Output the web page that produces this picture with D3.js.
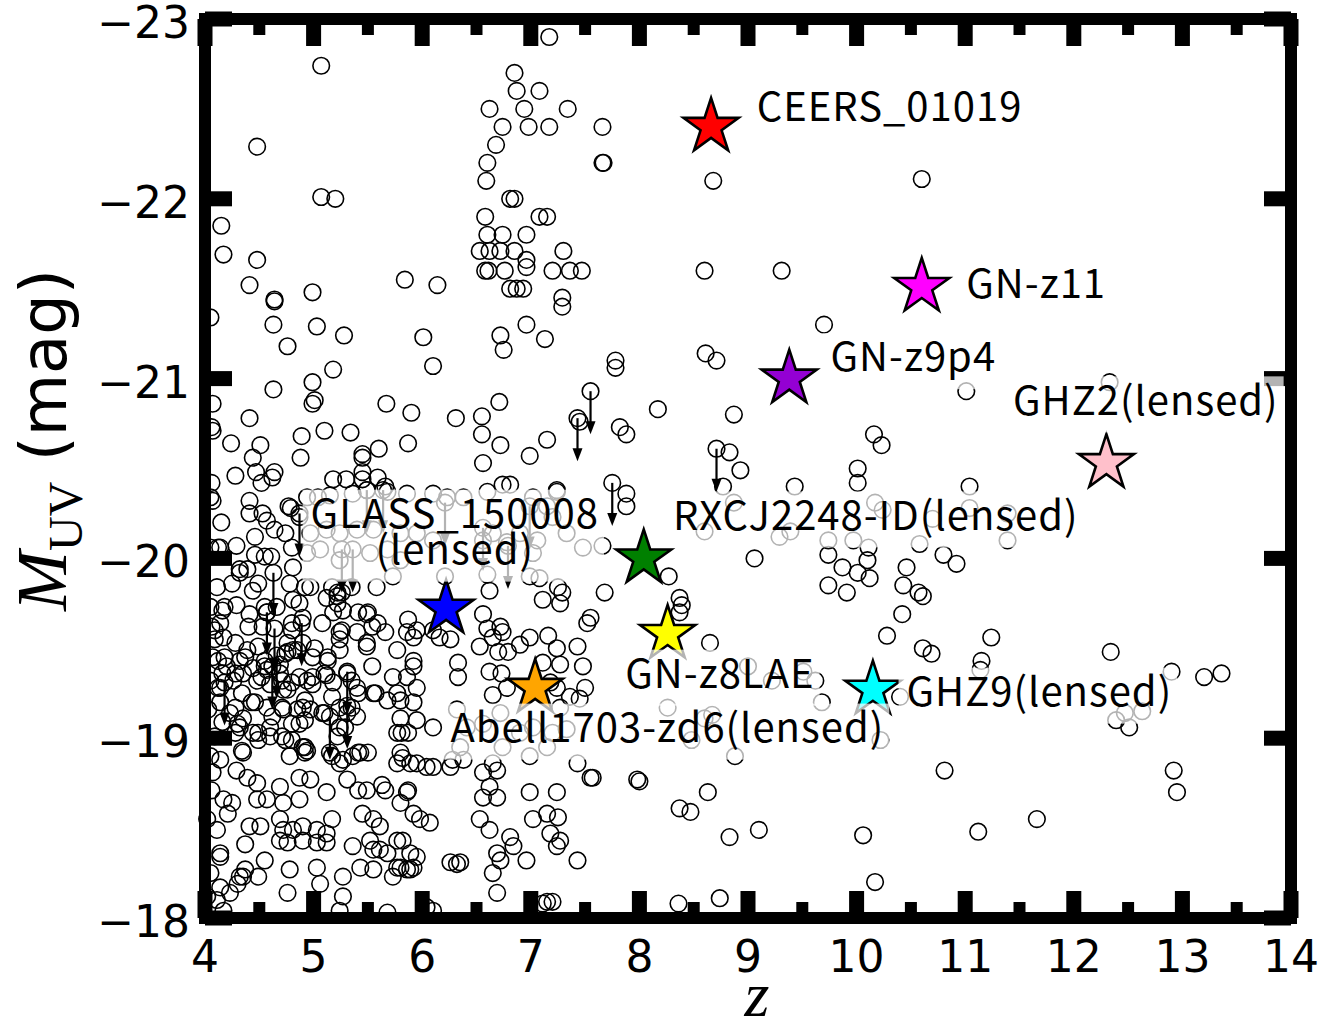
<!DOCTYPE html>
<html>
<head>
<meta charset="utf-8">
<script src="https://cdn.jsdelivr.net/npm/d3@7"></script>
<style>
  body { margin: 0; background: #fff; }
</style>
</head>
<body>
<svg id="chart" width="1341" height="1034"></svg>
<script>
// field galaxies [z, M_UV]
const fieldBright = [
  [7.17,-22.90],[6.85,-22.70],[6.87,-22.60],[7.08,-22.60],[6.62,-22.50],[6.94,-22.50],[7.34,-22.50],[6.74,-22.40],
  [6.98,-22.40],[7.17,-22.40],[7.66,-22.40],[6.68,-22.30],[6.60,-22.20],[7.66,-22.20],[7.67,-22.20],[6.59,-22.10],
  [6.81,-22.00],[6.85,-22.00],[6.58,-21.90],[7.08,-21.90],[7.15,-21.90],[6.60,-21.80],[6.74,-21.80],[6.96,-21.80],
  [6.53,-21.71],[6.62,-21.71],[6.72,-21.71],[6.85,-21.71],[6.96,-21.66],[6.96,-21.62],[7.30,-21.71],[6.58,-21.60],
  [6.61,-21.60],[6.76,-21.60],[7.20,-21.60],[7.36,-21.60],[7.47,-21.60],[6.81,-21.50],[6.87,-21.50],[6.93,-21.50],
  [7.29,-21.45],[7.29,-21.40],[5.84,-21.55],[6.14,-21.52],[6.96,-21.30],[6.72,-21.24],[6.75,-21.16],[7.13,-21.22],
  [6.01,-21.23],[6.10,-21.07],[5.07,-22.74],[4.48,-22.29],[5.07,-22.01],[5.20,-22.00],[4.15,-21.85],[4.17,-21.69],
  [4.48,-21.66],[4.41,-21.52],[4.64,-21.44],[4.99,-21.48],[8.68,-22.10],[10.60,-22.11],[8.60,-21.60],[9.31,-21.60],
  [9.70,-21.30],[4.05,-21.34]
];
const fieldHighZ = [
  [8.61,-21.14],[8.71,-21.10],[7.78,-21.10],[7.78,-21.06],[11.01,-20.93],[8.17,-20.83],[8.87,-20.80],[7.82,-20.73],
  [7.88,-20.69],[10.16,-20.69],[10.23,-20.63],[8.83,-20.59],[8.93,-20.49],[8.77,-20.40],[10.01,-20.50],[10.01,-20.42],
  [9.43,-20.40],[11.04,-20.40],[7.88,-20.36],[7.88,-20.29],[8.60,-20.15],[8.87,-20.31],[9.29,-20.12],[9.39,-20.15],
  [10.17,-20.31],[10.24,-20.27],[10.70,-20.22],[11.04,-20.28],[10.58,-20.08],[9.74,-20.10],[9.97,-20.10],[10.11,-20.06],
  [10.10,-19.99],[9.74,-20.02],[9.87,-19.95],[10.01,-19.92],[10.12,-19.89],[9.74,-19.85],[9.91,-19.81],[10.46,-19.95],
  [10.43,-19.85],[10.57,-19.81],[10.61,-19.79],[10.80,-20.02],[10.92,-19.97],[9.06,-20.00],[7.66,-20.07],[8.27,-19.90],
  [7.68,-19.81],[8.37,-19.78],[11.39,-20.25],[11.39,-20.10],[12.33,-20.98],
  [8.37,-19.70],[8.39,-19.74],[8.65,-19.53],[10.42,-19.69],[10.28,-19.57],[10.61,-19.50],[10.69,-19.47],[11.15,-19.43],
  [11.14,-19.38],[11.24,-19.56],[9.00,-19.40],[9.22,-19.32],[9.51,-19.37],[9.62,-19.32],[9.68,-19.20],[8.26,-19.17],
  [8.67,-19.13],[8.60,-19.11],[8.48,-18.99],[10.22,-18.99],[10.40,-19.23],[8.88,-18.90],[7.57,-18.78],[7.98,-18.77],
  [8.00,-18.76],[8.63,-18.70],[8.37,-18.61],[8.47,-18.59],[8.83,-18.45],[9.10,-18.49],[10.06,-18.46],[11.12,-18.48],
  [10.81,-18.82],[10.17,-18.20],[8.36,-18.08],[8.74,-18.11],
  [12.34,-19.48],[12.90,-19.37],[13.20,-19.34],[13.36,-19.36],[12.63,-19.15],[12.47,-19.14],[12.39,-19.10],[12.51,-19.06],
  [12.92,-18.82],[12.95,-18.70],[11.66,-18.55]
];
const fieldMid = [
  [4.64,-21.43],[4.63,-21.30],[5.03,-21.29],[5.28,-21.24],[4.76,-21.18],[5.18,-21.05],[4.63,-20.94],[4.99,-20.98],
  [4.07,-20.86],[5.01,-20.88],[4.99,-20.86],[5.67,-20.86],[5.90,-20.81],[6.71,-20.87],[6.55,-20.79],[6.31,-20.78],
  [4.41,-20.78],[7.45,-20.76],[4.06,-20.73],[4.07,-20.71],[6.55,-20.69],[6.72,-20.63],[7.15,-20.66],[6.99,-20.57],
  [4.89,-20.68],[5.10,-20.71],[5.34,-20.70],[4.24,-20.64],[4.51,-20.63],[4.44,-20.56],[4.88,-20.56],[5.87,-20.64],
  [5.45,-20.58],[5.45,-20.56],[5.60,-20.61],[6.56,-20.53],[4.28,-20.46],[4.47,-20.48],[4.64,-20.48],[4.62,-20.45],
  [4.52,-20.42],[4.06,-20.42],[5.18,-20.44],[5.30,-20.44],[5.45,-20.48],[5.45,-20.44],[5.59,-20.45],[5.66,-20.40],
  [6.74,-20.41],[6.81,-20.41],[7.24,-20.38],[4.05,-20.34],[4.07,-20.32],[4.41,-20.32],[4.77,-20.29],[4.79,-20.28],
  [4.41,-20.25],[4.53,-20.25],[4.57,-20.21],[4.15,-20.20],[4.64,-20.16],[4.74,-20.14],[4.46,-20.12],[4.05,-20.06],
  [4.14,-20.06],[4.46,-20.02],[4.55,-20.01],[4.61,-20.01],[4.32,-19.94],[4.39,-19.94],[4.81,-19.95],[5.73,-19.90],
  [6.21,-19.90],[6.60,-19.91],[6.99,-19.90],[7.08,-19.89],[7.25,-19.84],[7.29,-19.81],[5.58,-19.84],[6.62,-19.82],
  [4.11,-19.84],[4.44,-19.82],[4.97,-19.84],[5.17,-19.84],[5.22,-19.81],
  [4.94,-20.34],[5.04,-20.34],[5.15,-20.35],[5.36,-20.36],[5.49,-20.38],[5.68,-20.37],[5.86,-20.36],[6.10,-20.36],
  [6.38,-20.34],[6.60,-20.37],[7.02,-20.34],[7.24,-20.37],[7.15,-20.29],[7.20,-20.23],[4.87,-20.23],[4.97,-20.14],
  [5.12,-20.16],[5.24,-20.14],[5.40,-20.16],[5.55,-20.16],[5.80,-20.14],[5.95,-20.14],[6.10,-20.10],[6.56,-20.10],
  [6.65,-20.14],[6.78,-20.09],[6.90,-20.14],[7.06,-20.10],[7.02,-20.03],[7.48,-20.06],[4.94,-20.03],[5.06,-20.05],
  [5.24,-19.99],[5.52,-20.03],[5.68,-20.05],[5.80,-19.99],[6.23,-20.34],[7.33,-20.14],
  [4.12,-20.06],[4.29,-20.07],[4.80,-20.06],[4.32,-19.92],[4.25,-19.86],[4.49,-19.86],[4.78,-19.86],[4.92,-19.84],
  [5.26,-19.81],[5.35,-19.84]
];
const fieldFaint = [
  [4.16,-19.71],[4.29,-19.74],[4.41,-19.69],[4.40,-19.62],[4.57,-19.70],[4.66,-19.73],[4.87,-19.75],[4.90,-19.67],
  [4.80,-19.64],[5.18,-19.70],[5.22,-19.75],[5.27,-19.71],[5.41,-19.70],[5.49,-19.69],[5.54,-19.62],[5.66,-19.59],
  [5.87,-19.66],[5.92,-19.56],[5.95,-19.60],[5.86,-19.59],[6.10,-19.60],[6.16,-19.56],[6.56,-19.69],[6.60,-19.61],
  [6.72,-19.62],[6.74,-19.59],[6.65,-19.56],[7.11,-19.77],[7.27,-19.75],[7.52,-19.64],[7.55,-19.67],[4.09,-19.60],
  [4.17,-19.56],[4.14,-19.64],[4.07,-19.45],[4.20,-19.40],[4.12,-19.43],[4.32,-19.43],[4.39,-19.49],[4.44,-19.39],
  [4.55,-19.43],[4.69,-19.41],[4.76,-19.48],[4.81,-19.49],[4.90,-19.53],[5.01,-19.50],[5.13,-19.43],[5.24,-19.49],
  [5.24,-19.59],[5.49,-19.51],[5.77,-19.49],[5.92,-19.43],[5.92,-19.40],[6.26,-19.55],[6.33,-19.42],[6.33,-19.34],
  [6.53,-19.51],[6.70,-19.48],[6.79,-19.48],[6.90,-19.52],[6.99,-19.56],[7.16,-19.57],[7.24,-19.50],[7.43,-19.51],
  [7.48,-19.40],[7.11,-19.42],[7.27,-19.41],[6.62,-19.37],[6.73,-19.36],[4.05,-19.32],[4.14,-19.28],[4.26,-19.32],
  [4.35,-19.36],[4.48,-19.32],[4.57,-19.38],[4.60,-19.30],[4.69,-19.36],[4.72,-19.27],[4.87,-19.34],[4.94,-19.32],
  [4.99,-19.30],[5.12,-19.35],[5.18,-19.31],[5.31,-19.36],[5.40,-19.28],[5.55,-19.25],[5.73,-19.34],[5.86,-19.34],
  [5.95,-19.28],[5.77,-19.25],[6.65,-19.24],[6.78,-19.28],[7.18,-19.31],[7.24,-19.28],[7.36,-19.23],[7.45,-19.22],
  [7.50,-19.28],[4.03,-19.16],[4.14,-19.20],[4.23,-19.14],[4.35,-19.11],[4.46,-19.20],[4.57,-19.17],[4.72,-19.16],
  [4.85,-19.16],[4.90,-19.17],[4.97,-19.16],[5.10,-19.14],[5.24,-19.17],[5.31,-19.14],[5.40,-19.12],[5.68,-19.21],
  [5.80,-19.21],[5.92,-19.20],[5.80,-19.11],[5.95,-19.10],[4.44,-19.03],[4.32,-19.06],[4.60,-19.06],[4.71,-19.01],
  [4.87,-19.08],[5.24,-19.06],[5.77,-19.03],[5.81,-19.03],[5.87,-19.03],[6.10,-19.06],[4.05,-18.90],[4.14,-18.88],
  [4.35,-18.92],[4.49,-18.99],[4.60,-19.01],[4.80,-18.99],[4.90,-18.95],[4.94,-18.93],[5.15,-18.92],[5.24,-18.86],
  [5.27,-18.88],[5.36,-18.90],[5.43,-18.92],[5.50,-18.92],[4.78,-18.90],[5.80,-18.92],[5.82,-18.89],[5.89,-18.86],
  [5.95,-18.86],[6.04,-18.84],[6.10,-18.84],[5.77,-18.86],[6.26,-18.84],[6.28,-18.88],[6.38,-18.88],[6.65,-18.86],
  [6.69,-18.82],[6.99,-18.90],[7.43,-18.86],[7.55,-18.78],[4.07,-18.81],[4.29,-18.82],[4.39,-18.78],[4.48,-18.75],
  [4.69,-18.73],[4.87,-18.78],[4.97,-18.77],[5.12,-18.70],[5.31,-18.77],[5.41,-18.71],[5.49,-18.71],[5.63,-18.74],
  [5.66,-18.71],[5.86,-18.70],[5.87,-18.71],[6.56,-18.81],[6.62,-18.73],[6.69,-18.67],[6.56,-18.67],[6.99,-18.70],
  [7.24,-18.70],[4.17,-18.66],[4.25,-18.64],[4.48,-18.66],[4.57,-18.66],[4.72,-18.64],[4.87,-18.66],[4.21,-18.58],
  [4.41,-18.51],[4.51,-18.51],[4.69,-18.55],[4.72,-18.49],[4.81,-18.49],[4.90,-18.51],[5.03,-18.49],[5.12,-18.47],
  [5.17,-18.55],[5.45,-18.58],[5.55,-18.55],[5.61,-18.51],[5.80,-18.64],[5.92,-18.58],[5.98,-18.55],[6.07,-18.53],
  [6.53,-18.55],[6.62,-18.49],[7.02,-18.55],[7.15,-18.58],[7.25,-18.56],[4.11,-18.49],[4.02,-18.55],[4.14,-18.34],
  [4.14,-18.36],[4.32,-18.23],[4.37,-18.27],[4.49,-18.23],[4.69,-18.43],[4.76,-18.42],[4.90,-18.43],[5.03,-18.42],
  [5.12,-18.42],[5.36,-18.40],[5.43,-18.28],[5.52,-18.43],[5.55,-18.38],[5.61,-18.38],[5.68,-18.36],[5.77,-18.43],
  [5.82,-18.43],[5.89,-18.36],[5.95,-18.34],[5.80,-18.28],[5.86,-18.27],[5.92,-18.28],[6.26,-18.31],[6.32,-18.30],
  [6.35,-18.31],[6.69,-18.36],[6.72,-18.32],[6.81,-18.45],[6.84,-18.40],[6.96,-18.32],[7.18,-18.47],[7.24,-18.40],
  [7.27,-18.43],[7.43,-18.32],[4.05,-18.25],[4.14,-18.17],[4.23,-18.14],[4.30,-18.19],[4.35,-18.23],[4.76,-18.14],
  [5.03,-18.28],[5.06,-18.19],[5.27,-18.23],[5.27,-18.12],[5.55,-18.27],[5.73,-18.23],[5.77,-18.28],[5.89,-18.27],
  [6.65,-18.25],[6.69,-18.14],[5.24,-18.04],[5.68,-18.03],[6.04,-18.06],[6.10,-18.04],[7.15,-18.09],[7.20,-18.09],
  [7.11,-18.08],[4.02,-18.12],[4.11,-18.10],[4.17,-18.04],
  [6.32,-19.16],[6.41,-19.06],[6.56,-19.08],[6.72,-19.14],[6.90,-19.03],[7.02,-19.06],[7.20,-19.03],[7.33,-19.05],
  [6.35,-18.95],[6.74,-18.95],[7.15,-18.95],[7.27,-19.17]
];
const fieldCrowded = [
  [4.05,-19.73],[4.18,-19.73],[4.55,-19.73],[4.81,-19.77],[5.12,-19.78],[5.22,-19.79],[5.50,-19.70],[5.59,-19.64],
  [4.06,-19.62],[4.53,-19.62],[4.80,-19.60],[5.08,-19.64],[5.26,-19.60],[5.40,-19.59],[4.09,-19.55],[4.28,-19.53],
  [4.49,-19.51],[4.76,-19.53],[4.85,-19.49],[4.99,-19.45],[5.24,-19.55],[5.49,-19.53],[4.18,-19.45],[4.37,-19.45],
  [4.55,-19.40],[4.74,-19.47],[5.13,-19.45],[5.54,-19.40],[4.16,-19.36],[4.28,-19.36],[4.52,-19.34],[4.71,-19.32],
  [4.80,-19.31],[4.99,-19.34],[5.10,-19.36],[5.35,-19.32],[4.12,-19.28],[4.34,-19.25],[4.76,-19.27],[4.92,-19.21],
  [5.17,-19.23],[5.41,-19.25],[5.57,-19.25],[4.28,-19.17],[4.43,-19.20],[4.71,-19.17],[5.08,-19.14],[5.35,-19.17],
  [4.16,-19.09],[4.30,-19.08],[4.62,-19.12],[4.80,-19.08],[4.92,-19.10],[5.29,-19.06],[4.09,-19.01],[4.28,-19.03],
  [4.49,-19.03],[4.74,-18.99],[4.92,-18.95],[5.22,-19.01],[4.34,-18.93],[4.92,-18.92],[5.17,-18.90],[5.41,-18.92],
  [4.06,-18.71],[4.37,-18.41],[4.55,-18.32],[4.78,-18.27]
];
// upper limits on M_UV (arrow points to fainter values)
const upperLimits = [
  [4.63,-19.92],[4.57,-19.70],[4.64,-19.61],[4.66,-19.46],[4.62,-19.40],[4.89,-19.64],[4.18,-19.31],[5.15,-19.12],
  [5.31,-19.37],[5.31,-19.18],[5.26,-20.05],[5.36,-20.05],[7.55,-20.93],[7.43,-20.78],[8.71,-20.61],[7.75,-20.42],
  [6.79,-20.07],[4.87,-20.25],[5.49,-20.38],[5.64,-20.38],[6.21,-20.31],[6.56,-20.17],[6.99,-20.29]
];
const ulLength = 0.24;

// spectroscopic highlights
const starNames = ["CEERS_01019", "GN-z11", "GN-z9p4", "GHZ2", "RXCJ2248-ID", "GN-z8LAE", "GLASS_150008", "Abell1703-zd6", "GHZ9"];
const starZ = [8.66, 10.60, 9.38, 12.30, 8.04, 8.26, 6.22, 7.04, 10.15];
const starM = [-22.40, -21.51, -21.00, -20.53, -20.00, -19.58, -19.72, -19.28, -19.27];
const starColors = ["#ff0000", "#ff00ff", "#9400d3", "#ffc0cb", "#008000", "#ffff00", "#0000ff", "#ffa500", "#00ffff"];

// annotation text, anchored at left baseline (GLASS is centred, two lines)
const labelText = ["CEERS_01019", "GN-z11", "GN-z9p4", "GHZ2(lensed)", "RXCJ2248-ID(lensed)", "GN-z8LAE",
  "Abell1703-zd6(lensed)", "GHZ9(lensed)", "GLASS_150008\n(lensed)"];
const labelZ = [9.08, 11.01, 9.76, 11.44, 8.31, 7.87, 6.26, 10.46, 6.30];
const labelM = [-22.43, -21.45, -21.04, -20.80, -20.16, -19.28, -18.98, -19.18, -20.17];

const xTicks = d3.range(4, 15, 1);
const xMinor = d3.range(4.5, 14, 1);
const yTicks = [-23, -22, -21, -20, -19, -18];

const svg = d3.select("#chart");
const x = d3.scaleLinear().domain([4, 14]).range([205, 1291]);
const y = d3.scaleLinear().domain([-23, -18]).range([19, 918]);

const galaxies = fieldBright.concat(fieldHighZ, fieldMid, fieldFaint, fieldCrowded);

const gPts = svg.append("g").attr("class", "galaxies");
gPts
  .selectAll("circle")
  .data(galaxies.concat(upperLimits))
  .enter()
  .append("circle")
  .attr("cx", (d) => x(d[0]))
  .attr("cy", (d) => y(d[1]))
  .attr("r", 8.3)
  .attr("fill", "none")
  .attr("stroke", "#000")
  .attr("stroke-width", 1.6);

const gUl = svg.append("g").attr("class", "upper-limits");
gUl
  .selectAll("line")
  .data(upperLimits)
  .enter()
  .append("line")
  .attr("x1", (d) => x(d[0]))
  .attr("x2", (d) => x(d[0]))
  .attr("y1", (d) => y(d[1]))
  .attr("y2", (d) => y(d[1] + ulLength) - 8)
  .attr("stroke", "#000")
  .attr("stroke-width", 2.2);
gUl
  .selectAll("path")
  .data(upperLimits)
  .enter()
  .append("path")
  .attr("d", (d) => {
    const tx = x(d[0]);
    const ty = y(d[1] + ulLength);
    return `M${tx - 5},${ty - 13}L${tx + 5},${ty - 13}L${tx},${ty}Z`;
  })
  .attr("fill", "#000");

function starPath(R) {
  const r = R * 0.381966;
  const pts = [];
  for (let k = 0; k < 10; k++) {
    const a = -Math.PI / 2 + (k * Math.PI) / 5;
    const rr = k % 2 ? r : R;
    pts.push([rr * Math.cos(a), rr * Math.sin(a)]);
  }
  return "M" + pts.map((p) => p[0].toFixed(2) + "," + p[1].toFixed(2)).join("L") + "Z";
}

svg
  .append("g")
  .attr("class", "stars")
  .selectAll("path")
  .data(starNames)
  .enter()
  .append("path")
  .attr("transform", (d, i) => `translate(${x(starZ[i])},${y(starM[i])})`)
  .attr("d", starPath(29))
  .attr("fill", (d, i) => starColors[i])
  .attr("stroke", "#000")
  .attr("stroke-width", 2.6)
  .attr("stroke-linejoin", "miter");

// frame and ticks
const frame = svg.append("g").attr("class", "frame");
frame
  .append("rect")
  .attr("x", x(4))
  .attr("y", y(-23))
  .attr("width", x(14) - x(4))
  .attr("height", y(-18) - y(-23))
  .attr("fill", "none")
  .attr("stroke", "#000")
  .attr("stroke-width", 12);

function xTickMarks(vals, w, len) {
  vals.forEach((v) => {
    frame.append("rect").attr("x", x(v) - w / 2).attr("y", y(-23)).attr("width", w).attr("height", len);
    frame.append("rect").attr("x", x(v) - w / 2).attr("y", y(-18) - len).attr("width", w).attr("height", len);
  });
}
xTickMarks(xTicks, 15, 27);
xTickMarks(xMinor, 12, 16);
yTicks.forEach((v) => {
  frame.append("rect").attr("x", x(4)).attr("y", y(v) - 7.5).attr("width", 27).attr("height", 15);
  frame.append("rect").attr("x", x(14) - 27).attr("y", y(v) - 7.5).attr("width", 27).attr("height", 15);
});

const tickFont = "'DejaVu Sans', sans-serif";
svg
  .append("g")
  .selectAll("text")
  .data(xTicks)
  .enter()
  .append("text")
  .attr("x", (d) => x(d))
  .attr("y", 972)
  .attr("text-anchor", "middle")
  .style("font-family", tickFont)
  .style("font-size", "44px")
  .text((d) => d);
svg
  .append("g")
  .selectAll("text")
  .data(yTicks)
  .enter()
  .append("text")
  .attr("x", 190)
  .attr("y", (d) => y(d) + 19)
  .attr("text-anchor", "end")
  .style("font-family", tickFont)
  .style("font-size", "44px")
  .text((d) => "\u2212" + Math.abs(d));

// axis titles
svg
  .append("text")
  .attr("x", 757)
  .attr("y", 1016)
  .attr("text-anchor", "middle")
  .style("font-family", "'Liberation Serif', serif")
  .style("font-style", "italic")
  .style("font-size", "64px")
  .text("z");

const yTitle = svg
  .append("text")
  .attr("transform", "translate(66,440) rotate(-90)")
  .attr("text-anchor", "middle");
yTitle.append("tspan").style("font-family", "'Liberation Serif', serif").style("font-style", "italic").style("font-size", "72px").text("M");
yTitle.append("tspan").style("font-family", "'Liberation Serif', serif").style("font-size", "48px").attr("dy", 16).text("UV");
yTitle.append("tspan").style("font-family", "'DejaVu Sans', sans-serif").style("font-size", "64px").attr("dy", -16).text("\u00a0(mag)");

// annotations with semi-transparent white boxes
const labelFont = "'Noto Sans CJK JP', 'Noto Sans', sans-serif";
const fs = 40;
const lineGap = 36;
const gLab = svg.append("g").attr("class", "labels");
labelText.forEach((t, i) => {
  const lines = t.split("\n");
  const centred = lines.length > 1;
  const g = gLab.append("g");
  const box = g.append("rect").attr("fill", "#fff").attr("fill-opacity", 0.7);
  const txt = g
    .append("text")
    .attr("x", x(labelZ[i]))
    .attr("y", y(labelM[i]))
    .attr("text-anchor", centred ? "middle" : "start")
    .style("font-family", labelFont)
    .style("font-size", fs + "px")
    .style("letter-spacing", "1px")
    .style("fill", "#000");
  lines.forEach((ln, k) => {
    txt.append("tspan").attr("x", x(labelZ[i])).attr("dy", k === 0 ? 0 : lineGap).text(ln);
  });
  const bb = txt.node().getBBox();
  const top = y(labelM[i]) - 0.73 * fs - 9;
  const bottom = y(labelM[i]) + (lines.length - 1) * lineGap + 0.22 * fs + 9;
  box
    .attr("x", bb.x - 8)
    .attr("y", top)
    .attr("width", bb.width + 13)
    .attr("height", bottom - top);
});
</script>
</body>
</html>
